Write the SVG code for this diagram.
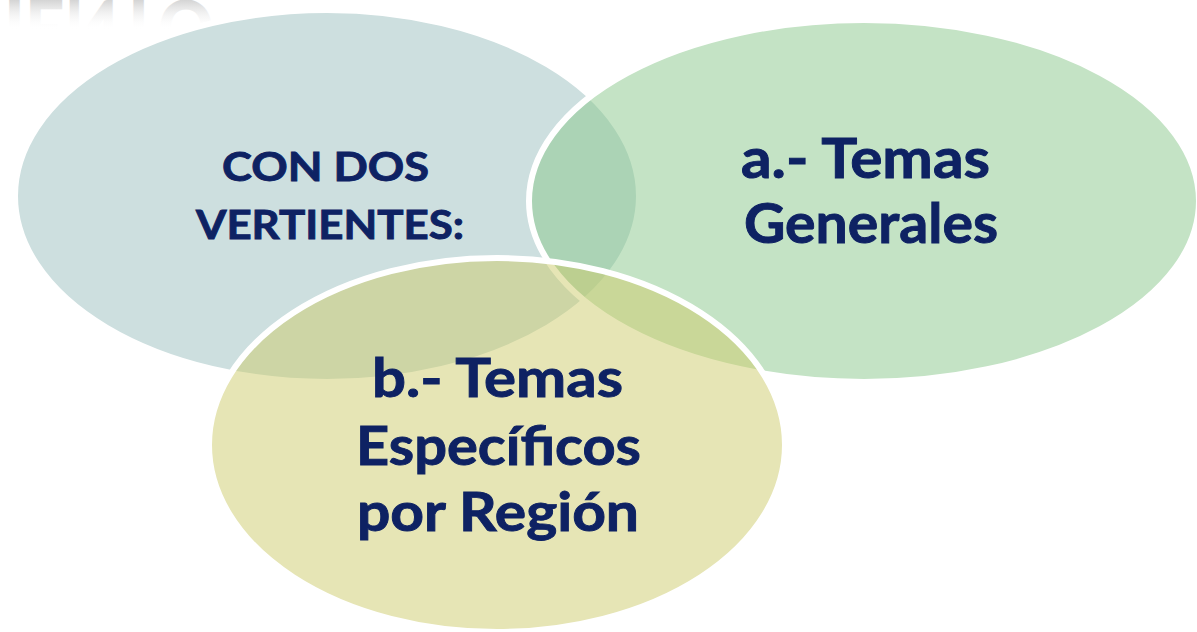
<svg xmlns="http://www.w3.org/2000/svg" width="1197" height="632" viewBox="0 0 1197 632">
  <defs>
    <linearGradient id="wm" gradientUnits="userSpaceOnUse" x1="0" y1="0" x2="0" y2="-30">
      <stop offset="0" stop-color="#c9c9c9" stop-opacity="0.8"/>
      <stop offset="1" stop-color="#ffffff" stop-opacity="0"/>
    </linearGradient>
  </defs>
  <style>
    .bub { stroke: #ffffff; stroke-width: 6; }
    .lbl { font-family: Lato, "Open Sans", "Liberation Sans", sans-serif; font-weight: 700; fill: #0e2263; stroke: #0e2263; stroke-width: 0.9; }
  </style>
  <rect width="1197" height="632" fill="#ffffff"/>
  <text transform="scale(1,-1)" x="4" y="0" textLength="210" lengthAdjust="spacingAndGlyphs" font-family="Lato, 'Liberation Sans', sans-serif" font-weight="900" font-size="78" fill="url(#wm)">IENTO</text>
  <g id="connectors"></g>
  <g id="node-vertientes">
    <ellipse class="bub" cx="327" cy="196" rx="312" ry="186" fill="#9bbfbf" fill-opacity="0.5"/>
    <text class="lbl" font-size="40"><tspan x="222" y="181" textLength="207" lengthAdjust="spacingAndGlyphs">CON DOS</tspan><tspan x="196" y="239" textLength="268" lengthAdjust="spacingAndGlyphs">VERTIENTES:</tspan></text>
  </g>
  <g id="node-generales">
    <ellipse class="bub" cx="864" cy="201" rx="335" ry="181" fill="#89c78b" fill-opacity="0.5"/>
    <text class="lbl" font-size="56"><tspan x="741" y="178" textLength="249" lengthAdjust="spacingAndGlyphs">a.- Temas</tspan><tspan x="744" y="243" textLength="254" lengthAdjust="spacingAndGlyphs">Generales</tspan></text>
  </g>
  <g id="node-especificos">
    <ellipse class="bub" cx="497" cy="445" rx="288" ry="187" fill="#cdcb6b" fill-opacity="0.5"/>
    <text class="lbl" font-size="54"><tspan x="372" y="397" textLength="251" lengthAdjust="spacingAndGlyphs">b.- Temas</tspan><tspan x="356" y="465" textLength="285" lengthAdjust="spacingAndGlyphs">Específicos</tspan><tspan x="357" y="531" textLength="282" lengthAdjust="spacingAndGlyphs">por Región</tspan></text>
  </g>
</svg>
